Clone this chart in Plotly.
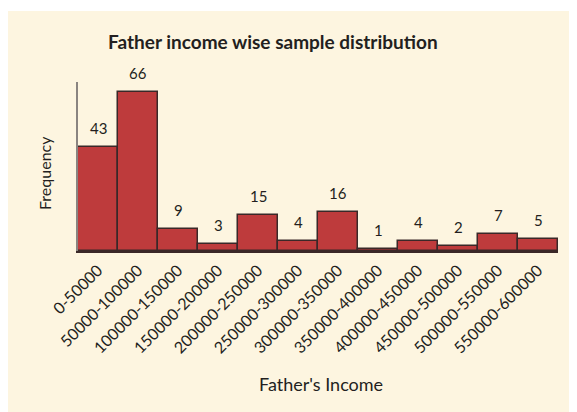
import plotly.graph_objects as go

categories = ["0-50000", "50000-100000", "100000-150000", "150000-200000",
              "200000-250000", "250000-300000", "300000-350000", "350000-400000",
              "400000-450000", "450000-500000", "500000-550000", "550000-600000"]
frequency = [43, 66, 9, 3, 15, 4, 16, 1, 4, 2, 7, 5]

title_text = "Father income wise sample distribution"
x_title = "Father's Income"
y_title = "Frequency"

OFF = 8  # page body margin
W, H = 569, 404
ML, MR, MT, MB = 78 - OFF, 19, 82 - OFF, 412 - 251
pw, ph = W - ML - MR, H - MT - MB

def px_x(p):  # page x -> paper
    return (p - OFF - ML) / pw

def px_y(p):  # page y -> paper
    return (H - MB - (p - OFF)) / ph

FONT = "Lato, 'Open Sans', sans-serif"
TXT = "#231f20"

fig = go.Figure()
fig.add_trace(go.Bar(
    x=categories, y=frequency,
    marker=dict(color="#be3b3c", line=dict(color="#3a2828", width=1.5)),
    hoverinfo="x+y",
))

annotations = []
for c, v in zip(categories, frequency):
    annotations.append(dict(x=c, y=v, xref="x", yref="y", text=str(v),
                            showarrow=False, yanchor="bottom", yshift=8,
                            font=dict(family=FONT, size=15, color=TXT)))
annotations.append(dict(x=px_x(273), y=px_y(41), xref="paper", yref="paper",
                        text="<b>" + title_text + "</b>", showarrow=False,
                        xanchor="center", yanchor="middle",
                        font=dict(family=FONT, size=19, color=TXT)))
annotations.append(dict(x=px_x(321), y=px_y(384), xref="paper", yref="paper",
                        text=x_title, showarrow=False, xanchor="center", yanchor="middle",
                        font=dict(family=FONT, size=18, color=TXT)))
annotations.append(dict(x=px_x(44), y=px_y(173), xref="paper", yref="paper",
                        text=y_title, showarrow=False, textangle=-90,
                        xanchor="center", yanchor="middle",
                        font=dict(family=FONT, size=16, color=TXT)))

fig.update_layout(
    width=W, height=H,
    margin=dict(l=ML, r=MR, t=MT, b=MB),
    paper_bgcolor="#fdf5e0",
    plot_bgcolor="rgba(0,0,0,0)",
    bargap=0,
    showlegend=False,
    xaxis=dict(tickangle=-45, tickfont=dict(family=FONT, size=16, color=TXT),
               automargin=False,
               showline=True, linecolor="#3a2828", linewidth=1.5,
               ticks="outside", ticklen=2, tickcolor="rgba(0,0,0,0)",
               showgrid=False, zeroline=False, fixedrange=True),
    yaxis=dict(range=[0, 70], showticklabels=False, showgrid=False, zeroline=False,
               showline=True, linecolor="#8a8480", linewidth=1.5, ticks="",
               automargin=False, fixedrange=True),
    annotations=annotations,
    shapes=[dict(type="rect", xref="paper", yref="paper", layer="below",
                 x0=px_x(0), x1=px_x(600), y0=px_y(11), y1=px_y(-5),
                 fillcolor="white", line=dict(width=0))],
)

fig.write_html("out.html")
